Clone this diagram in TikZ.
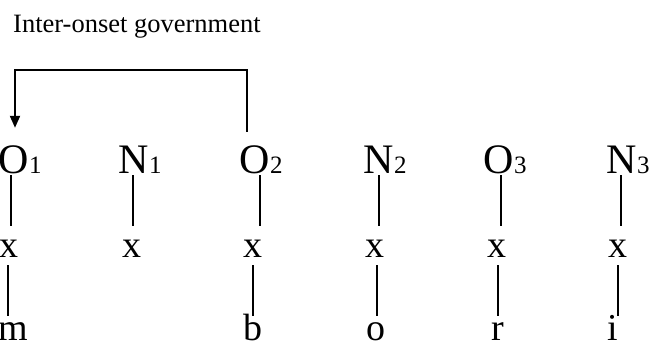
\documentclass[tikz,border=0pt]{standalone}
\usepackage{fontspec}
\setmainfont{Liberation Serif}
\usetikzlibrary{arrows.meta}
\newcommand\lsub[1]{\rlap{\fontsize{25}{25}\selectfont #1}}
\begin{document}
\begin{tikzpicture}[x=1pt,y=-1pt,
  lab/.style={anchor=base,inner sep=0pt,text height=30pt,text depth=0pt,font=\fontsize{42}{42}\selectfont},
  xs/.style={anchor=base,inner sep=0pt,font=\fontsize{38}{38}\selectfont},
  seg/.style={anchor=base,inner sep=0pt,text height=24pt,text depth=0pt,font=\fontsize{38}{38}\selectfont},
  stem/.style={line width=1.5pt},
  gov/.style={line width=2pt,-{Triangle[length=12pt,width=10pt]}}]
\useasboundingbox (0,0) rectangle (652,345);
\node[anchor=base west,inner sep=0pt,font=\fontsize{26.5}{26.5}\selectfont] (title) at (13,33) {Inter-onset government};
% top row
\node[lab] (O1) at (14,173) {O\lsub{1}};
\node[lab] (N1) at (134,173) {N\lsub{1}};
\node[lab] (O2) at (255,173) {O\lsub{2}};
\node[lab] (N2) at (379,173) {N\lsub{2}};
\node[lab] (O3) at (499,173) {O\lsub{3}};
\node[lab] (N3) at (622,173) {N\lsub{3}};
% x row
\node[xs] (x1) at (9,257) {x};
\node[xs] (x2) at (132,257) {x};
\node[xs] (x3) at (253,257) {x};
\node[xs] (x4) at (375,257) {x};
\node[xs] (x5) at (497,257) {x};
\node[xs] (x6) at (618,257) {x};
% segments
\node[seg] (sm) at (13,340) {m};
\node[seg] (sb) at (253,340) {b};
\node[seg] (so) at (376,340) {o};
\node[seg] (sr) at (498,340) {r};
\node[seg] (si) at (613,340) {i};
% line positions
\coordinate (tl1) at (11,0);
\coordinate (tl2) at (133,0);
\coordinate (tl3) at (260,0);
\coordinate (tl4) at (379,0);
\coordinate (tl5) at (501,0);
\coordinate (tl6) at (621,0);
\coordinate (bl1) at (8,0);
\coordinate (bl3) at (253,0);
\coordinate (bl4) at (377,0);
\coordinate (bl5) at (498,0);
\coordinate (bl6) at (618,0);
\coordinate (gc) at (15,70);
% upper stems
\foreach \t/\x/\l in {O1/x1/tl1,N1/x2/tl2,O2/x3/tl3,N2/x4/tl4,O3/x5/tl5,N3/x6/tl6}
  \draw[stem,shorten <=2pt,shorten >=13pt] (\t.south -| \l) -- (\x.north -| \l);
% lower stems
\foreach \x/\s/\l in {x1/sm/bl1,x3/sb/bl3,x4/so/bl4,x5/sr/bl5,x6/si/bl6}
  \draw[stem,shorten <=8pt] (\x.south -| \l) -- (\s.north -| \l);
% government arrow
\draw[gov] ([xshift=-8pt,yshift=11pt]O2.north) |- (gc) -- ([xshift=1pt,yshift=15pt]O1.north);
\end{tikzpicture}
\end{document}
